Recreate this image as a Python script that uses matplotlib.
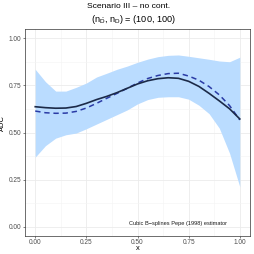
import matplotlib
matplotlib.use("Agg")
import matplotlib.pyplot as plt
import numpy as np

plt.rcParams['font.family'] = ['Liberation Sans', 'DejaVu Sans']
plt.rcParams['mathtext.fontset'] = 'custom'
plt.rcParams['mathtext.rm'] = 'Liberation Sans'
plt.rcParams['mathtext.it'] = 'Liberation Sans'

x = [0.0, 0.05, 0.1, 0.15, 0.2, 0.25, 0.3, 0.35, 0.4, 0.45, 0.5,
     0.55, 0.6, 0.65, 0.7, 0.75, 0.8, 0.85, 0.9, 0.95, 1.0]
auc_est = [0.637, 0.632, 0.629, 0.630, 0.638, 0.655, 0.675, 0.692, 0.712, 0.735, 0.758,
           0.775, 0.786, 0.791, 0.788, 0.772, 0.745, 0.708, 0.668, 0.626, 0.572]
auc_true = [0.614, 0.605, 0.602, 0.603, 0.612, 0.630, 0.655, 0.682, 0.708, 0.735, 0.763,
            0.787, 0.803, 0.813, 0.815, 0.800, 0.778, 0.744, 0.700, 0.643, 0.567]
band_upper = [0.836, 0.770, 0.720, 0.720, 0.740, 0.763, 0.795, 0.815, 0.836, 0.853, 0.873,
              0.890, 0.903, 0.910, 0.912, 0.905, 0.897, 0.889, 0.880, 0.876, 0.900]
band_lower = [0.369, 0.430, 0.470, 0.488, 0.497, 0.520, 0.545, 0.570, 0.595, 0.620, 0.652,
              0.675, 0.687, 0.690, 0.690, 0.677, 0.645, 0.600, 0.523, 0.390, 0.212]
xticks = [0.0, 0.25, 0.5, 0.75, 1.0]
yticks = [0.0, 0.25, 0.5, 0.75, 1.0]
title1 = "Scenario III \u2013 no cont."
title2 = r"$(\mathrm{n}_{\bar{\mathrm{D}}},\, \mathrm{n}_{\mathrm{D}})$ = (100, 100)"
note = "Cubic B\u2212splines Pepe (1998) estimator"

fig = plt.figure(figsize=(2.54, 2.54), dpi=100)
ax = fig.add_axes([25/254, 1-236/254, 225/254, 207/254])

ax.fill_between(x, band_lower, band_upper, color='#BADCFF', linewidth=0, zorder=2)
ax.plot(x, auc_est, color='#1C2A48', lw=1.2, zorder=4)
ax.plot(x, auc_true, color='#2A3BA6', lw=1.1, ls=(0, (3.5, 2.5)), zorder=3)

ax.set_xlim(-0.05, 1.05)
ax.set_ylim(-0.05, 1.05)
ax.set_xticks(xticks)
ax.set_yticks(yticks)
ax.set_xticklabels([f"{v:.2f}" for v in xticks])
ax.set_yticklabels([f"{v:.2f}" for v in yticks])
ax.set_xticks([0.125, 0.375, 0.625, 0.875], minor=True)
ax.set_yticks([0.125, 0.375, 0.625, 0.875], minor=True)
ax.grid(True, which='major', color='#EBEBEB', lw=0.6, zorder=0)
ax.grid(True, which='minor', color='#F4F4F4', lw=0.4, zorder=0)
ax.set_axisbelow(True)
ax.tick_params(which='major', labelsize=4.7, colors='#4D4D4D', length=1.5, width=0.5, pad=1.0)
ax.tick_params(axis='x', which='major', pad=0.3)
ax.tick_params(which='minor', length=0)
for s in ax.spines.values():
    s.set_color('#333333')
    s.set_linewidth(0.5)

ax.set_xlabel("x", fontsize=5.4)
ax.xaxis.set_label_coords((138 - 25) / 225, -(248.6 - 236) / 207)
ax.xaxis.label.set_va('center')
ax.set_ylabel("AUC", fontsize=5.4)
ax.yaxis.set_label_coords((6 - 25) / 225, (236 - 123.5) / 207)

ax.text(0.70, 0.018, note, fontsize=4.1, ha='center', va='center', color='#1A1A1A')

fig.text(129/254, 1-7/254, title1, fontsize=6.1, ha='center', va='center')
fig.text(133/254, 1-19.5/254, title2, fontsize=6.6, ha='center', va='center')

fig.savefig("out.png", dpi=100)
